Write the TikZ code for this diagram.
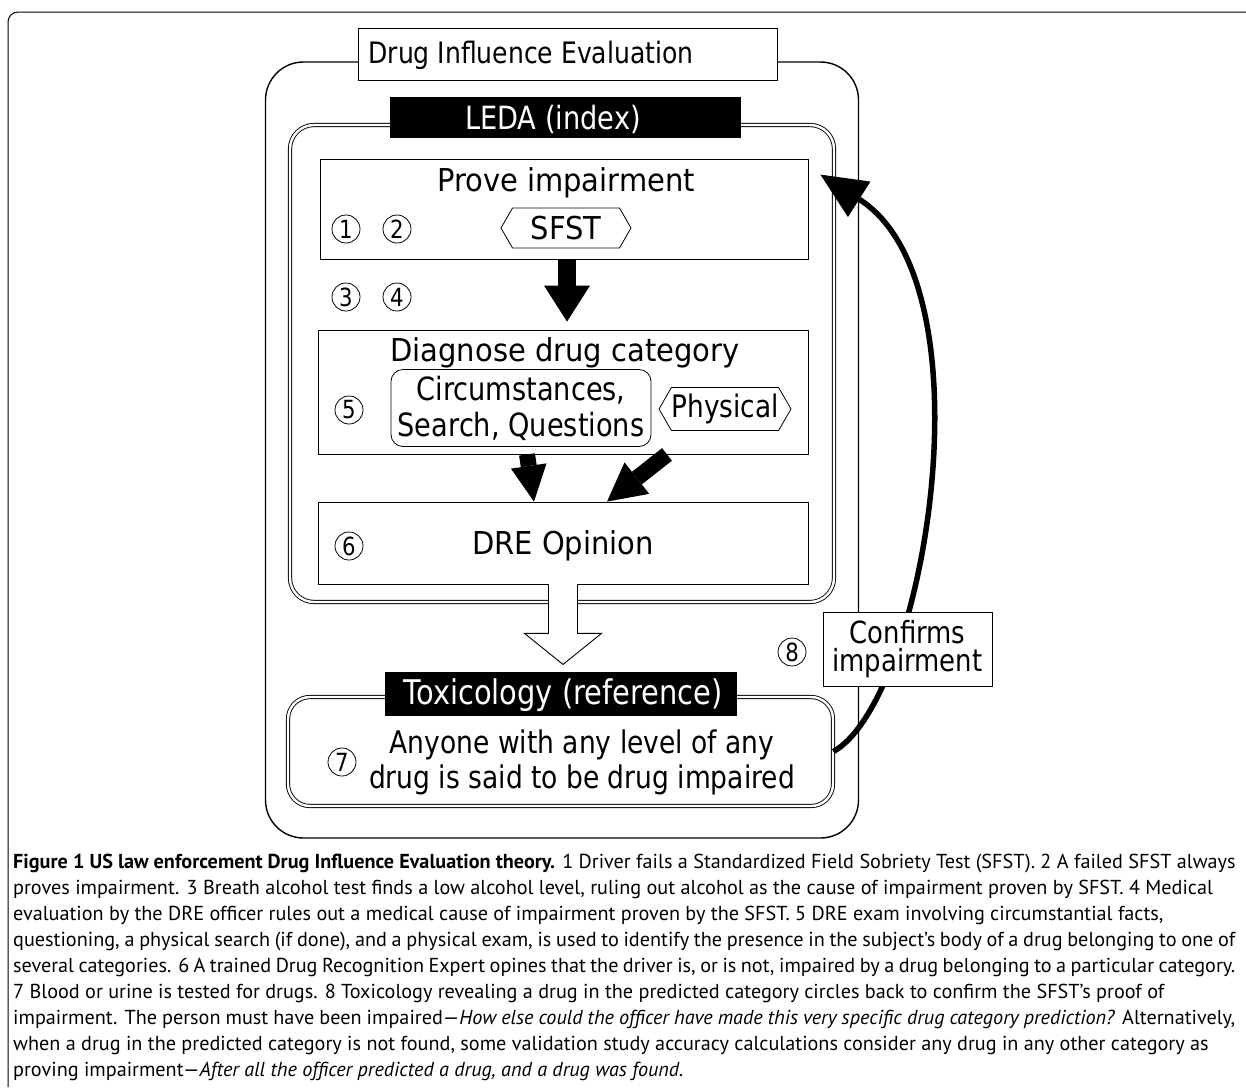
\documentclass[tikz,border=0pt]{standalone}
\usepackage{fontspec}
\setmainfont{PT Sans}
\newfontfamily\dfont[FakeStretch=0.85]{DejaVu Sans}
\newfontfamily\dfontw[FakeStretch=0.92]{DejaVu Sans}
\usetikzlibrary{arrows.meta,shapes.symbols,shapes.misc,calc}
\begin{document}
\begin{tikzpicture}[x=1pt,y=-1pt,
  dtext/.style={font=\dfontw\fontsize{31.5}{35}\selectfont},
  thinbox/.style={draw, line width=0.8pt, inner sep=0pt},
  dblbox/.style={draw, double, double distance=2.4pt, line width=0.9pt, rounded corners=24pt, inner sep=0pt},
  circnum/.style={draw, circle, line width=0.8pt, minimum size=28pt, inner sep=0pt, font=\dfont\fontsize{25}{25}\selectfont},
  hexa/.style={draw, line width=0.8pt, signal, signal to=east and west, signal pointer angle=120, inner sep=0pt},
  blackbar/.style={fill=black, inner sep=0pt},
  bartext/.style={text=white, inner sep=0pt},
  blockarrow/.style={line width=#1, -{Triangle[length=36pt,width=46pt,line width=0pt]}},
  captext/.style={anchor=base west, inner sep=0pt, font=\fontsize{20.2}{24}\selectfont},
]
\useasboundingbox (0,0) rectangle (1246,1087);
% page frame
\draw[line width=1pt, rounded corners=10pt] (8,1087) -- (8,12) -- (1246,12);

% Drug Influence Evaluation outer box
\node[draw, line width=1.4pt, rounded corners=38pt, minimum width=593pt, minimum height=776pt, inner sep=0pt] (die) at (562,450) {};
\node[thinbox, fill=white, minimum width=419pt, minimum height=52pt] (dielab) at (567.5,54) {};
\node[inner sep=0pt, font=\dfont\fontsize{29.5}{34}\selectfont] (dielabt) at (531,55) {Drug Influence Evaluation};

% LEDA box
\node[dblbox, minimum width=544pt, minimum height=477pt] (leda) at (562,363.5) {};
\node[blackbar, minimum width=351pt, minimum height=41pt] (ledabar) at (565.5,117.5) {};
\node[bartext, font=\dfont\fontsize{32}{36}\selectfont] (ledat) at (553,119) {LEDA (index)};

% Prove impairment
\node[thinbox, minimum width=488pt, minimum height=100pt] (prove) at (564,209) {};
\node[dtext, inner sep=0pt] (provet) at (566,183) {Prove impairment};
\node[circnum] (c1) at (346,229) {1};
\node[circnum] (c2) at (397,229) {2};
\node[hexa, dtext, minimum width=130pt, minimum height=40pt] (sfst) at (566,228) {SFST};

\node[circnum] (c3) at (346,297) {3};
\node[circnum] (c4) at (397,297) {4};

% Diagnose drug category
\node[thinbox, minimum width=490pt, minimum height=124pt] (diag) at (563,392) {};
\node[dtext, inner sep=0pt] (diagt) at (565,353) {Diagnose drug category};
\node[circnum] (c5) at (349,410) {5};
\node[draw, line width=0.8pt, rounded corners=12pt, minimum width=260pt, minimum height=77pt, inner sep=0pt, align=center, font=\dfont\fontsize{32}{36}\selectfont] (circ) at (521,408) {Circumstances,\\Search, Questions};
\node[hexa, font=\dfont\fontsize{31}{35}\selectfont, minimum width=131pt, minimum height=43pt] (phys) at (725,409) {Physical};

% DRE Opinion
\node[thinbox, minimum width=490pt, minimum height=82pt] (dre) at (563,543) {};
\node[circnum] (c6) at (349,546) {6};
\node[dtext, inner sep=0pt] (dret) at (563,546) {DRE Opinion};

% block arrows
\draw[blockarrow=18pt] (prove.south -| sfst.south) ++(1,0) coordinate (a1s) -- ($(diag.north -| sfst.south)+(1,-8)$);
\draw[line width=16pt, -{Triangle[length=36pt,width=36pt,line width=0pt]}] ($(diag.south)+(-36,0)$) -- ($(dre.north)+(-29,0)$);
\draw[line width=16pt, -{Triangle[length=38pt,width=40pt,line width=0pt]}] ($(diag.south)+(104,0)$) -- ($(dre.north)+(44,0)$);

% Toxicology box
\node[dblbox, rounded corners=22pt, minimum width=545pt, minimum height=109pt] (tox) at (560.5,751.5) {};
\node[blackbar, minimum width=352pt, minimum height=44pt] (toxbar) at (561,694) {};
\node[bartext, font=\dfont\fontsize{34}{38}\selectfont] (toxt) at (563,695) {Toxicology (reference)};
\node[circnum] (c7) at (342,762) {7};
\node[inner sep=0pt, align=center, font=\dfont\fontsize{31.2}{35}\selectfont] (toxtext) at (582,762) {Anyone with any level of any\\drug is said to be drug impaired};

% open arrow DRE -> Toxicology
\coordinate (oa) at (dre.south);
\fill[white] ($(oa)+(-14.5,-1.5)$) -- ($(oa)+(-14.5,49)$) -- ($(oa)+(-38.5,49)$) -- ($(oa)+(0,80)$) -- ($(oa)+(38.5,49)$) -- ($(oa)+(14.5,49)$) -- ($(oa)+(14.5,-1.5)$) -- cycle;
\draw[line width=0.9pt, line join=miter] ($(oa)+(-14.5,0)$) -- ($(oa)+(-14.5,49)$) -- ($(oa)+(-38.5,49)$) -- ($(oa)+(0,80)$) -- ($(oa)+(38.5,49)$) -- ($(oa)+(14.5,49)$) -- ($(oa)+(14.5,0)$);

% feedback curve
\coordinate (tipt) at ($(prove.north east)+(12,16)$);
\draw[line width=5.5pt, -{Triangle[length=46pt,width=42pt,line width=0pt]}] (tox.east) .. controls (925,700) and (994,285) .. (tipt);

% Confirms impairment
\node[thinbox, fill=white, minimum width=169pt, minimum height=74pt, align=center, font=\dfont\fontsize{30.5}{28}\selectfont] (conf) at (907.5,649) {Confirms\\impairment};
\node[circnum] (c8) at (792,652) {8};

% caption
\node[captext] (cap1) at (13,868) {\textbf{Figure 1 US law enforcement Drug Influence Evaluation theory.} 1 Driver fails a Standardized Field Sobriety Test (SFST). 2 A failed SFST always};
\node[captext] (cap2) at (13,894) {proves impairment. 3 Breath alcohol test finds a low alcohol level, ruling out alcohol as the cause of impairment proven by SFST. 4 Medical};
\node[captext] (cap3) at (13,920) {evaluation by the DRE officer rules out a medical cause of impairment proven by the SFST. 5 DRE exam involving circumstantial facts,};
\node[captext] (cap4) at (13,946) {\hbox to 1222pt{questioning, a physical search (if done), and a physical exam, is used to identify the presence in the subject’s body of a drug belonging to one of}};
\node[captext] (cap5) at (13,972) {\hbox to 1222pt{several categories. 6 A trained Drug Recognition Expert opines that the driver is, or is not, impaired by a drug belonging to a particular category.}};
\node[captext] (cap6) at (13,998) {7 Blood or urine is tested for drugs. 8 Toxicology revealing a drug in the predicted category circles back to confirm the SFST’s proof of};
\node[captext] (cap7) at (13,1024) {\hbox to 1222pt{impairment. The person must have been impaired—\textit{How else could the officer have made this very specific drug category prediction?} Alternatively,}};
\node[captext] (cap8) at (13,1050) {when a drug in the predicted category is not found, some validation study accuracy calculations consider any drug in any other category as};
\node[captext] (cap9) at (13,1076) {proving impairment—\textit{After all the officer predicted a drug, and a drug was found.}};
\end{tikzpicture}
\end{document}
